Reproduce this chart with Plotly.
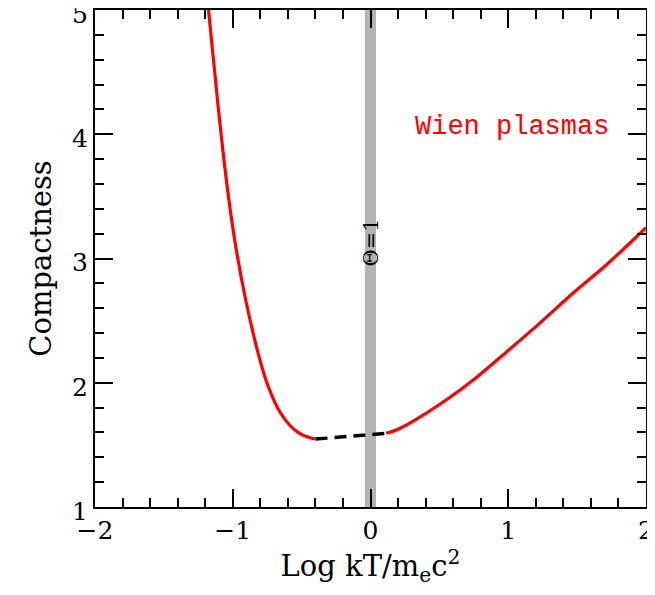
import plotly.graph_objects as go

# Wien plasma compactness vs temperature
left_x = [-1.176, -1.111, -1.072, -1.028, -0.974, -0.906, -0.840, -0.782, -0.733, -0.666, -0.588, -0.515, -0.443, -0.399]
left_y = [5.0, 4.276, 3.873, 3.471, 3.068, 2.666, 2.344, 2.103, 1.942, 1.781, 1.660, 1.593, 1.559, 1.547]

gap_x = [-0.399, 0.114]
gap_y = [1.547, 1.593]

right_x = [0.114, 0.186, 0.307, 0.549, 0.755, 0.987, 1.227, 1.469, 1.711, 2.0]
right_y = [1.593, 1.620, 1.690, 1.861, 2.030, 2.248, 2.478, 2.720, 2.948, 3.248]

x_ticks = [-2, -1, 0, 1, 2]
x_ticklabels = ["\u22122", "\u22121", "0", "1", "2"]
y_ticks = [1, 2, 3, 4, 5]

band = (-0.04, 0.04)

SERIF = "DejaVu Serif"

fig = go.Figure()
fig.add_shape(type="rect", x0=band[0], x1=band[1], y0=1, y1=5, xref="x", yref="y",
              fillcolor="#b3b3b3", line_width=0, layer="below")

fig.add_trace(go.Scatter(x=left_x, y=left_y, mode="lines",
                         line=dict(color="red", width=3.2, shape="spline", smoothing=0.9),
                         showlegend=False))
fig.add_trace(go.Scatter(x=gap_x, y=gap_y, mode="lines",
                         line=dict(color="black", width=3.4, dash="12px,7px"),
                         showlegend=False))
fig.add_trace(go.Scatter(x=right_x, y=right_y, mode="lines",
                         line=dict(color="red", width=3.2, shape="spline", smoothing=1.0),
                         showlegend=False))

fig.add_annotation(x=1.027, y=4.06, text="Wien plasmas", showarrow=False,
                   font=dict(family="Liberation Mono", size=27, color="red"))
fig.add_annotation(x=0, y=3.125, text="\u0398=1", showarrow=False, textangle=-90,
                   font=dict(family=SERIF, size=21, color="black"))

axis_common = dict(
    showgrid=False, zeroline=False, showline=True, linecolor="black", linewidth=2,
    mirror="ticks", ticks="inside", ticklen=18, tickwidth=2, tickcolor="black",
    tickfont=dict(family=SERIF, size=25, color="black"),
    title_font=dict(family=SERIF, size=29, color="black"),
    automargin=False, ticklabeloverflow="allow",
)

fig.update_xaxes(range=[-2, 2], tickvals=x_ticks, ticktext=x_ticklabels,
                 minor=dict(ticks="inside", dtick=0.2, tick0=0, ticklen=9, tickwidth=1.5, tickcolor="black"),
                 title_text="Log kT/m<sub>e</sub>c<sup>2</sup>", title_standoff=10, **axis_common)
fig.update_yaxes(range=[1, 5], tickvals=y_ticks, ticklabelshift=4,
                 minor=dict(ticks="inside", dtick=0.2, tick0=0, ticklen=9, tickwidth=1.5, tickcolor="black"),
                 title_text="Compactness", title_standoff=12, **axis_common)

# the page body adds an 8px offset, so the figure is sized to fit inside it
fig.update_layout(
    width=647, height=587,
    margin=dict(l=87, r=9, t=2, b=88),
    plot_bgcolor="white", paper_bgcolor="white",
)

fig.write_html("out.html")
